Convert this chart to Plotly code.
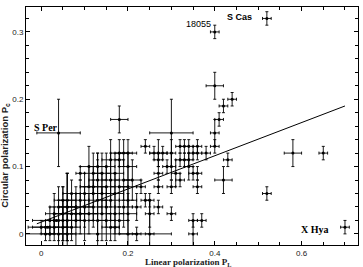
import plotly.graph_objects as go

# Estimated data: linear polarization P_L, circular polarization P_c, and symmetric errors
pl = [0.52, 0.40, 0.40, 0.44, 0.42, 0.41, 0.40, 0.40, 0.43, 0.42, 0.58, 0.65, 0.52, 0.70,
      0.04, 0.18, 0.30, 0.30, 0.35, 0.35, 0.37,
      0.00, 0.01, 0.01, 0.02, 0.02, 0.03, 0.03, 0.03, 0.04, 0.04, 0.04, 0.05, 0.05, 0.05, 0.05,
      0.06, 0.06, 0.06, 0.06, 0.07, 0.07, 0.07, 0.08, 0.08, 0.09, 0.09, 0.09, 0.10, 0.10, 0.10,
      0.11, 0.11, 0.11, 0.12, 0.12, 0.12, 0.13, 0.13, 0.13, 0.13, 0.14, 0.14, 0.14, 0.15, 0.15,
      0.15, 0.15, 0.16, 0.16, 0.16, 0.16, 0.17, 0.17, 0.17, 0.17, 0.18, 0.18, 0.18, 0.18, 0.19,
      0.19, 0.19, 0.20, 0.20, 0.20, 0.20, 0.20, 0.20, 0.21, 0.22, 0.22, 0.23, 0.24, 0.25, 0.25,
      0.27, 0.24, 0.26, 0.27, 0.28, 0.27, 0.27, 0.27, 0.29, 0.30, 0.30, 0.30, 0.31, 0.32, 0.32,
      0.32, 0.33, 0.33, 0.34, 0.34, 0.34, 0.35, 0.35, 0.36, 0.36, 0.36, 0.36, 0.38, 0.13, 0.25,
      0.015, 0.035, 0.06, 0.08, 0.12]
pc = [0.32, 0.30, 0.22, 0.20, 0.19, 0.17, 0.15, 0.13, 0.11, 0.08, 0.12, 0.12, 0.06, 0.01,
      0.15, 0.17, 0.15, 0.03, 0.02, 0.00, 0.02,
      0.01, 0.00, 0.01, 0.00, 0.02, 0.01, 0.02, 0.03, 0.00, 0.02, 0.04, 0.01, 0.02, 0.03, 0.05,
      0.00, 0.02, 0.04, 0.05, 0.01, 0.03, 0.06, 0.02, 0.04, 0.03, 0.09, 0.05, 0.02, 0.04, 0.06,
      0.03, 0.07, 0.10, 0.04, 0.06, 0.09, 0.02, 0.05, 0.08, 0.10, 0.03, 0.06, 0.09, 0.02, 0.04,
      0.07, 0.10, 0.01, 0.05, 0.08, 0.11, 0.03, 0.06, 0.09, 0.01, 0.02, 0.07, 0.11, 0.12, 0.04,
      0.08, 0.12, 0.00, 0.03, 0.05, 0.07, 0.10, 0.12, 0.08, 0.00, 0.04, 0.07, 0.05, 0.05, 0.03,
      0.04, 0.13, 0.12, 0.12, 0.12, 0.11, 0.09, 0.07, 0.10, 0.12, 0.10, 0.07, 0.09, 0.08, 0.11,
      0.13, 0.11, 0.13, 0.10, 0.11, 0.13, 0.12, 0.09, 0.12, 0.13, 0.09, 0.07, 0.12, 0.00, 0.00,
      0.01, 0.02, 0.04, 0.03, 0.07]
pl_err = [0.01, 0.01, 0.02, 0.01, 0.01, 0.01, 0.01, 0.01, 0.01, 0.02, 0.02, 0.01, 0.01, 0.01,
          0.05, 0.02, 0.05, 0.01, 0.01, 0.01, 0.01,
          0.02, 0.01, 0.01, 0.01, 0.01, 0.01, 0.01, 0.02, 0.02, 0.02, 0.02, 0.02, 0.02, 0.02, 0.02,
          0.02, 0.02, 0.02, 0.02, 0.02, 0.02, 0.02, 0.02, 0.02, 0.02, 0.01, 0.02, 0.02, 0.02, 0.02,
          0.02, 0.02, 0.02, 0.02, 0.02, 0.02, 0.02, 0.02, 0.02, 0.02, 0.02, 0.02, 0.02, 0.02, 0.02,
          0.02, 0.02, 0.02, 0.02, 0.02, 0.02, 0.02, 0.02, 0.02, 0.01, 0.02, 0.02, 0.01, 0.02, 0.02,
          0.02, 0.02, 0.02, 0.02, 0.02, 0.02, 0.02, 0.02, 0.02, 0.01, 0.01, 0.01, 0.01, 0.01, 0.01,
          0.01, 0.01, 0.01, 0.02, 0.01, 0.01, 0.01, 0.01, 0.01, 0.01, 0.01, 0.01, 0.01, 0.01, 0.01,
          0.01, 0.01, 0.01, 0.01, 0.01, 0.01, 0.01, 0.01, 0.01, 0.01, 0.01, 0.01, 0.01, 0.17, 0.01,
          0.045, 0.055, 0.02, 0.05, 0.03]
pc_err = [0.01, 0.01, 0.02, 0.01, 0.01, 0.01, 0.02, 0.01, 0.01, 0.02, 0.02, 0.01, 0.01, 0.01,
          0.05, 0.02, 0.05, 0.01, 0.01, 0.02, 0.01,
          0.01, 0.01, 0.01, 0.01, 0.02, 0.02, 0.02, 0.03, 0.02, 0.03, 0.03, 0.03, 0.03, 0.04, 0.02,
          0.02, 0.03, 0.05, 0.04, 0.02, 0.03, 0.02, 0.04, 0.03, 0.03, 0.01, 0.03, 0.03, 0.03, 0.03,
          0.03, 0.03, 0.03, 0.03, 0.04, 0.03, 0.03, 0.07, 0.03, 0.02, 0.04, 0.03, 0.03, 0.03, 0.03,
          0.03, 0.02, 0.02, 0.03, 0.04, 0.03, 0.03, 0.03, 0.03, 0.02, 0.02, 0.03, 0.01, 0.02, 0.03,
          0.03, 0.02, 0.02, 0.03, 0.03, 0.03, 0.02, 0.02, 0.03, 0.01, 0.02, 0.01, 0.01, 0.01, 0.02,
          0.01, 0.01, 0.01, 0.02, 0.01, 0.01, 0.01, 0.01, 0.01, 0.02, 0.02, 0.01, 0.02, 0.01, 0.01,
          0.01, 0.01, 0.01, 0.02, 0.01, 0.01, 0.01, 0.01, 0.01, 0.01, 0.01, 0.01, 0.01, 0.00, 0.05,
          0.00, 0.00, 0.05, 0.01, 0.01]

# Fitted relation (end points)
fit_pl = [-0.01, 0.70]
fit_pc = [0.015, 0.19]

# Star labels
label_text = ["S Cas", "18055", "S Per", "X Hya"]
label_pl = [0.49, 0.395, -0.022, 0.668]
label_pc = [0.322, 0.312, 0.158, 0.006]
label_font = ["Liberation Sans", "Liberation Sans", "Liberation Serif", "Liberation Serif"]
label_bold = [True, False, True, True]
label_size = [9, 9, 10, 10]
label_anchor = ["right", "right", "left", "right"]

x_tickvals = [0, 0.2, 0.4, 0.6]
x_ticktext = ["0", "0.2", "0.4", "0.6"]
y_tickvals = [0, 0.1, 0.2, 0.3]
y_ticktext = ["0", "0.1", "0.2", "0.3"]

x_title = "Linear polarization P<sub>L</sub>"
y_title = "Circular polarization P<sub>c</sub>"

fig = go.Figure()
fig.add_trace(go.Scatter(
    x=pl, y=pc, mode="markers",
    marker=dict(color="black", size=3),
    error_x=dict(type="data", array=pl_err, visible=True, color="black", thickness=0.9, width=1.5),
    error_y=dict(type="data", array=pc_err, visible=True, color="black", thickness=0.9, width=1.5),
    showlegend=False, cliponaxis=True,
))
fig.add_trace(go.Scatter(
    x=fit_pl, y=fit_pc, mode="lines",
    line=dict(color="black", width=1), showlegend=False,
))

for t, x, y, f, b, s, a in zip(label_text, label_pl, label_pc, label_font, label_bold,
                               label_size, label_anchor):
    fig.add_annotation(x=x, y=y, text=("<b>" + t + "</b>") if b else t, showarrow=False,
                       xanchor=a, yanchor="middle",
                       font=dict(family=f, size=s, color="black"))

# axis titles
fig.add_annotation(xref="paper", yref="paper", x=0.488, y=-0.072, text="<b>" + x_title + "</b>",
                   showarrow=False, xanchor="center", yanchor="middle",
                   font=dict(family="Liberation Serif", size=9, color="#222"))
fig.add_annotation(xref="paper", yref="paper", x=-0.063, y=0.375, text="<b>" + y_title + "</b>",
                   showarrow=False, xanchor="center", yanchor="middle", textangle=-90,
                   font=dict(family="Liberation Sans", size=9.5, color="#222"))

axis_common = dict(
    showgrid=False, zeroline=False, showline=True, linecolor="black", linewidth=1,
    mirror="ticks", ticks="inside", ticklen=4, tickwidth=1, tickcolor="black",
    tickfont=dict(family="Liberation Sans", size=8, color="#222"),
)

fig.update_xaxes(
    range=[-0.035, 0.73], tickvals=x_tickvals, ticktext=x_ticktext,
    minor=dict(dtick=0.05, ticks="inside", ticklen=3, tickcolor="black", showgrid=False),
    **axis_common,
)
fig.update_yaxes(
    range=[-0.0165, 0.337], tickvals=y_tickvals, ticktext=y_ticktext,
    minor=dict(dtick=0.02, tick0=0, ticks="inside", ticklen=3, tickcolor="black", showgrid=False),
    **axis_common,
)

fig.update_layout(
    width=363, height=267,
    margin=dict(l=26, r=5, t=7, b=22, autoexpand=False),
    plot_bgcolor="white", paper_bgcolor="white",
)

fig.write_html("out.html")
